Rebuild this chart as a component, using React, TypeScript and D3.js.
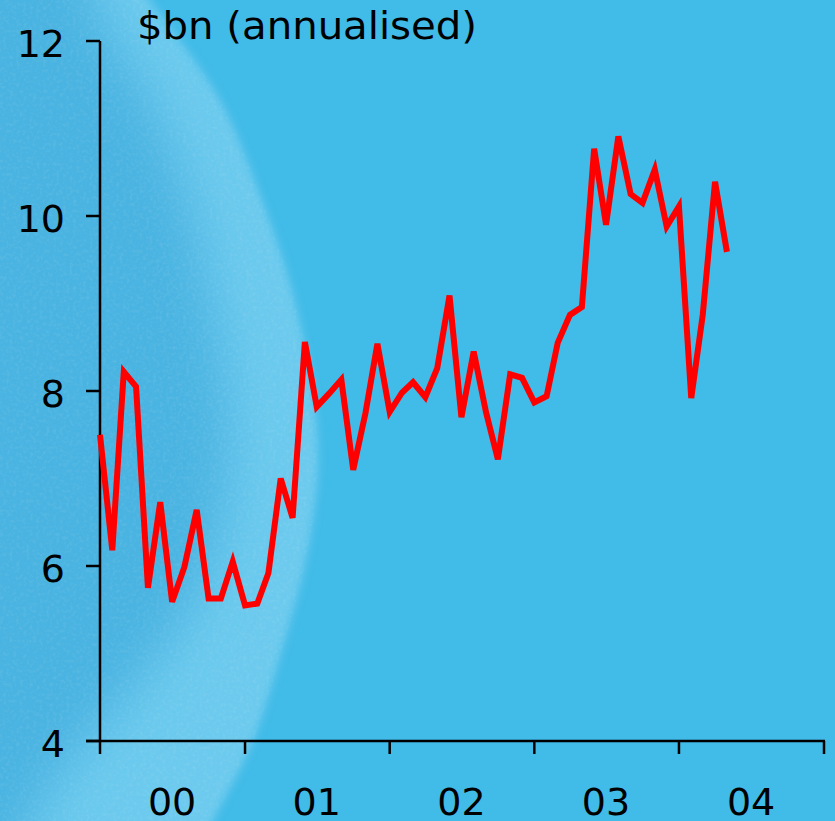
import { useMemo } from 'react';
import { scaleLinear, scaleTime, line, timeYear, curveCatmullRom } from 'd3';

// monthly values, Jan 2000 .. May 2004
const startMonth = new Date(2000, 0, 1);
const values = [
  7.5, 6.18, 8.22, 8.05, 5.75, 6.73, 5.59, 5.99, 6.64, 5.63, 5.63, 6.05,
  5.55, 5.57, 5.92, 7.0, 6.55, 8.56, 7.82, 7.97, 8.13, 7.1, 7.75, 8.54,
  7.76, 7.98, 8.1, 7.93, 8.26, 9.09, 7.7, 8.45, 7.76, 7.22, 8.19, 8.15,
  7.87, 7.94, 8.55, 8.87, 8.96, 10.77, 9.9, 10.91, 10.25, 10.15, 10.53, 9.88,
  10.11, 7.92, 8.87, 10.39, 9.59,
];
const yTicks = [4, 6, 8, 10, 12];
const yearLabels = ['00', '01', '02', '03', '04'];
const unitLabel = '$bn (annualised)';

// background decoration: outline of the pale swirl, and its darker core
const swirlEdge: [number, number][] = [
  [-30, -30], [130, -30], [150, 0], [220, 100], [262, 200], [292, 290], [314, 400],
  [318, 470], [306, 560], [282, 650], [253, 741], [213, 821], [190, 870], [-30, 870],
];
const swirlCore: [number, number][] = [
  [-200, -200], [70, -200], [95, 0], [150, 100], [188, 200], [212, 300], [228, 400],
  [226, 500], [195, 600], [130, 690], [70, 760], [30, 821], [0, 900], [-200, 900],
];

const W = 835;
const H = 821;
const left = 100;
const right = 824;
const top = 41;
const bottom = 741;
const font = '"DejaVu Sans", Verdana, sans-serif';

const App = () => {
  const x = useMemo(
    () => scaleTime().domain([new Date(2000, 0, 1), new Date(2005, 0, 1)]).range([left, right]),
    []
  );
  const y = useMemo(() => scaleLinear().domain([4, 12]).range([bottom, top]), []);

  const points = values.map((v, i) => ({
    date: new Date(startMonth.getFullYear(), startMonth.getMonth() + i, 1),
    v,
  }));
  const path = line<{ date: Date; v: number }>()
    .x((d) => x(d.date))
    .y((d) => y(d.v))(points);

  const blob = line().curve(curveCatmullRom);
  const edgePath = blob(swirlEdge) + 'Z';
  const corePath = blob(swirlCore) + 'Z';

  const yearTicks = timeYear.range(new Date(2000, 0, 1), new Date(2005, 0, 2));

  return (
    <svg
      width={W}
      height={H}
      style={{ position: 'absolute', left: 0, top: 0, display: 'block' }}
    >
      <defs>
        <filter id="grain" x="0" y="0" width="100%" height="100%">
          <feTurbulence type="fractalNoise" baseFrequency="0.3" numOctaves="3" seed="4" />
          <feColorMatrix
            type="matrix"
            values="0 0 0 0 1  0 0 0 0 1  0 0 0 0 1  0 0 0 0.6 -0.25"
          />
        </filter>
        <filter id="edgeBlur" x="-20%" y="-20%" width="140%" height="140%">
          <feGaussianBlur stdDeviation="4" />
        </filter>
        <filter id="coreBlur" x="-50%" y="-50%" width="200%" height="200%">
          <feGaussianBlur stdDeviation="26" />
        </filter>
        <clipPath id="swirl">
          <path d={edgePath} />
        </clipPath>
      </defs>

      <rect width={W} height={H} fill="#41bbe8" />
      <path d={edgePath} fill="#6ccaee" filter="url(#edgeBlur)" />
      <g clipPath="url(#swirl)">
        <path d={corePath} fill="#4ab3e1" filter="url(#coreBlur)" />
        <rect width={W} height={H} filter="url(#grain)" opacity={0.32} />
      </g>

      <text
        x={137}
        y={39}
        fontFamily={font}
        fontSize={37}
        textLength={340}
        lengthAdjust="spacingAndGlyphs"
        fill="#000"
      >
        {unitLabel}
      </text>

      {/* y axis */}
      <line x1={left} x2={left} y1={top} y2={bottom} stroke="#000" strokeWidth={2.5} />
      {yTicks.map((t) => (
        <g key={t}>
          <line x1={86} x2={left} y1={y(t)} y2={y(t)} stroke="#000" strokeWidth={2.5} />
          <text
            x={65}
            y={y(t) + 15.5}
            textAnchor="end"
            fontFamily={font}
            fontSize={38}
            fill="#000"
          >
            {t}
          </text>
        </g>
      ))}

      {/* x axis */}
      <line x1={86} x2={right + 1} y1={bottom} y2={bottom} stroke="#000" strokeWidth={2.5} />
      {yearTicks.map((d) => (
        <line
          key={d.getTime()}
          x1={x(d)}
          x2={x(d)}
          y1={bottom}
          y2={bottom + 13}
          stroke="#000"
          strokeWidth={2.5}
        />
      ))}
      {yearLabels.map((lab, i) => (
        <text
          key={lab}
          x={x(new Date(2000 + i, 6, 1))}
          y={815}
          textAnchor="middle"
          fontFamily={font}
          fontSize={38}
          fill="#000"
        >
          {lab}
        </text>
      ))}

      <path d={path ?? ''} fill="none" stroke="#ff0000" strokeWidth={6} strokeLinejoin="miter" />
    </svg>
  );
};

export default App;
